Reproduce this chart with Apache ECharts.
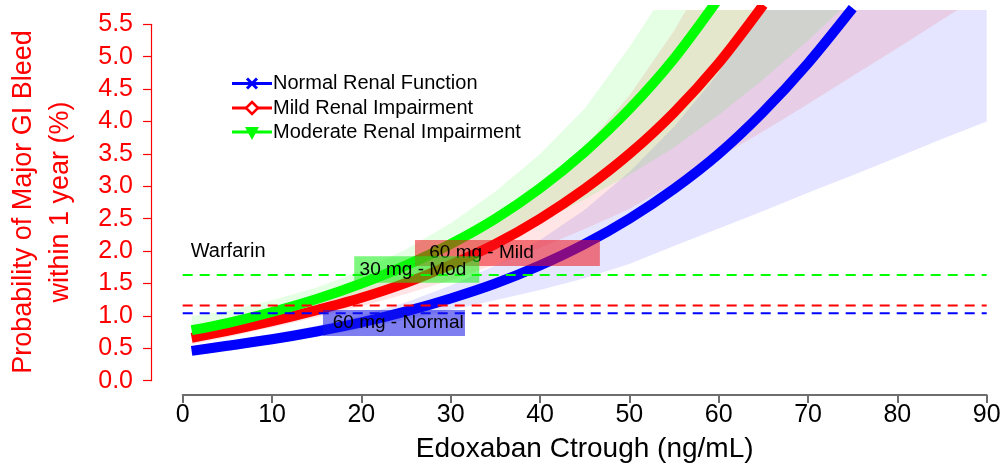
<!DOCTYPE html>
<html>
<head>
<meta charset="utf-8">
<script src="https://cdn.jsdelivr.net/npm/echarts/dist/echarts.min.js"></script>
<style>
  html, body { margin: 0; padding: 0; background: #fff; }
  #chart { width: 1005px; height: 466px; }
</style>
</head>
<body>
<div id="chart"></div>
<script>
// Edoxaban trough concentration (ng/mL) at which the curves are sampled
const concentration = [1, 5, 10, 15, 20, 25, 30, 35, 40, 45, 50, 55, 60, 65, 70, 75, 80, 85, 90];

// Predicted probability of major GI bleed within 1 year (%), with confidence limits.
// null = beyond the top of the plotted range.
const normalRisk = [0.46, 0.54, 0.64, 0.76, 0.90, 1.07, 1.27, 1.50, 1.78, 2.11, 2.50, 2.96, 3.50, 4.15, 4.90, 5.75, null, null, null];
const normalLow  = [0.40, 0.47, 0.57, 0.68, 0.80, 0.94, 1.09, 1.24, 1.40, 1.58, 1.80, 2.08, 2.35, 2.62, 2.90, 3.17, 3.45, 3.73, 4.00];
const normalHigh = [0.53, 0.61, 0.72, 0.85, 1.01, 1.21, 1.47, 1.78, 2.17, 2.64, 3.22, 3.92, 4.75, 5.95, null, null, null, null, null];

const mildRisk = [0.66, 0.77, 0.92, 1.09, 1.28, 1.51, 1.79, 2.11, 2.50, 2.96, 3.50, 4.14, 4.90, 5.80, null, null, null, null, null];
const mildLow  = [0.56, 0.67, 0.82, 0.98, 1.15, 1.34, 1.55, 1.79, 2.05, 2.34, 2.65, 3.05, 3.45, 3.85, 4.27, 4.70, 5.13, 5.57, 6.00];
const mildHigh = [0.76, 0.88, 1.04, 1.22, 1.44, 1.70, 2.02, 2.42, 2.90, 3.60, 4.40, 5.40, 6.60, null, null, null, null, null, null];

const modRisk = [0.78, 0.89, 1.06, 1.26, 1.50, 1.78, 2.11, 2.50, 2.97, 3.53, 4.19, 4.97, 5.90, null, null, null, null, null, null];
const modLow  = [0.62, 0.73, 0.90, 1.10, 1.32, 1.56, 1.83, 2.12, 2.45, 2.80, 3.18, 3.60, 4.10, 4.65, 5.25, 5.90, null, null, null];
const modHigh = [1.00, 1.08, 1.24, 1.44, 1.70, 2.03, 2.43, 2.92, 3.50, 4.20, 5.15, 6.20, null, null, null, null, null, null, null];

// Warfarin reference risk (%) for each renal group
const warfarinRisk = { normal: 1.04, mild: 1.16, moderate: 1.63 };

// Axis tick settings
const xTicks = { min: 0, max: 90, step: 10 };
const yTicks = { min: 0, max: 5.5, step: 0.5 };

// Dose-group tags (data units: concentration span, risk span, text start)
const doseTags = [
  { text: '60 mg - Mild',   x0: 26.0, x1: 46.7, y0: 1.77, y1: 2.17, tx: 27.6, fill: 'rgba(240,20,30,0.55)' },
  { text: '30 mg - Mod',    x0: 19.2, x1: 33.2, y0: 1.51, y1: 1.92, tx: 19.8, fill: 'rgba(20,240,20,0.55)' },
  { text: '60 mg - Normal', x0: 15.7, x1: 31.6, y0: 0.69, y1: 1.09, tx: 16.8, fill: 'rgba(20,20,230,0.55)' }
];

const FONT = '"Liberation Sans", Arial, Helvetica, sans-serif';
const Y_LIM = [-0.22, 5.72];   // plotting range of the data region

const BLUE = '#0000ff', RED = '#ff0000', GREEN = '#00ff00';

function pairs(values) {
  const out = [];
  values.forEach((v, i) => { if (v != null) out.push([concentration[i], v]); });
  return out;
}

function bandSeries(lower, upper, color) {
  return {
    type: 'custom', z: 2,
    xAxisIndex: 1, yAxisIndex: 1,
    clip: true, silent: true,
    data: [[concentration[0], lower[0]]],
    renderItem(params, api) {
      const top = Y_LIM[1];
      const up = concentration.map((x, i) => api.coord([x, upper[i] == null ? top : upper[i]]));
      const lo = concentration.map((x, i) => api.coord([x, lower[i] == null ? top : lower[i]])).reverse();
      return { type: 'polygon', shape: { points: up.concat(lo) }, style: { fill: color } };
    }
  };
}

function curveSeries(values, color) {
  return {
    type: 'line', z: 2, xAxisIndex: 1, yAxisIndex: 1,
    data: pairs(values), smooth: 0.3, showSymbol: false, symbol: 'none',
    lineStyle: { color, width: 10, cap: 'butt' }, silent: true
  };
}

function refSeries(value, color) {
  return {
    type: 'line', z: 3, xAxisIndex: 1, yAxisIndex: 1,
    data: [[xTicks.min, value], [xTicks.max, value]], symbol: 'none', silent: true,
    lineStyle: { color, width: 2, type: [10, 7] }
  };
}

const tagSeries = {
  type: 'custom', z: 4, xAxisIndex: 1, yAxisIndex: 1, silent: true,
  data: doseTags.map(d => [d.x0, d.y0]),
  renderItem(params, api) {
    const d = doseTags[params.dataIndex];
    const a = api.coord([d.x0, d.y1]);
    const b = api.coord([d.x1, d.y0]);
    const t = api.coord([d.tx, (d.y0 + d.y1) / 2]);
    return {
      type: 'group',
      children: [
        { type: 'rect', shape: { x: a[0], y: a[1], width: b[0] - a[0], height: b[1] - a[1] }, style: { fill: d.fill } },
        { type: 'text', x: t[0], y: t[1],
          style: { text: d.text, fill: '#000', fontSize: 19, fontFamily: FONT, align: 'left', verticalAlign: 'middle' } }
      ]
    };
  }
};

// Legend drawn as graphics: line + marker + label
const legendRows = [
  { label: 'Normal Renal Function',    color: BLUE,  y: 83.5,  marker: 'cross' },
  { label: 'Mild Renal Impairment',    color: RED,   y: 108,   marker: 'diamond' },
  { label: 'Moderate Renal Impairment', color: GREEN, y: 132,  marker: 'triangle' }
];

function legendGraphics() {
  const items = [];
  const x0 = 232, x1 = 272, cx = 252;
  legendRows.forEach(r => {
    items.push({ type: 'line', shape: { x1: x0, y1: r.y, x2: x1, y2: r.y }, style: { stroke: r.color, lineWidth: 3 } });
    if (r.marker === 'cross') {
      items.push({ type: 'line', shape: { x1: cx - 5, y1: r.y - 5, x2: cx + 5, y2: r.y + 5 }, style: { stroke: r.color, lineWidth: 3 } });
      items.push({ type: 'line', shape: { x1: cx - 5, y1: r.y + 5, x2: cx + 5, y2: r.y - 5 }, style: { stroke: r.color, lineWidth: 3 } });
    } else if (r.marker === 'diamond') {
      items.push({ type: 'polygon', shape: { points: [[cx, r.y - 6], [cx + 6, r.y], [cx, r.y + 6], [cx - 6, r.y]] },
        style: { fill: '#fff', stroke: r.color, lineWidth: 2.5 } });
    } else {
      items.push({ type: 'polygon', shape: { points: [[cx - 7, r.y - 5], [cx + 7, r.y - 5], [cx, r.y + 8]] },
        style: { fill: r.color } });
    }
    items.push({ type: 'text', x: x1 + 1, y: r.y,
      style: { text: r.label, fill: '#000', fontSize: 20, fontFamily: FONT, align: 'left', verticalAlign: 'middle' } });
  });
  return items;
}

const chart = echarts.init(document.getElementById('chart'), null, { renderer: 'canvas' });

chart.setOption({
  animation: false,
  backgroundColor: '#fff',
  grid: [
    { left: 182.7, right: 18.3, top: 24.3, bottom: 85.3 },   // axes frame (0..90, 0..5.5)
    { left: 182.7, right: 18.3, top: 10, bottom: 71 }        // data region (slightly padded vertically)
  ],
  xAxis: [
    {
      gridIndex: 0, type: 'value', min: xTicks.min, max: xTicks.max, interval: xTicks.step,
      offset: 14.3,
      axisLine: { onZero: false, lineStyle: { color: '#6e6e6e', width: 2 } },
      axisTick: { length: 8, lineStyle: { color: '#6e6e6e', width: 2 } },
      axisLabel: { color: '#000', fontSize: 25, fontFamily: FONT, margin: 8 },
      splitLine: { show: false }
    },
    { gridIndex: 1, type: 'value', min: xTicks.min, max: xTicks.max, show: false }
  ],
  yAxis: [
    {
      gridIndex: 0, type: 'value', min: yTicks.min, max: yTicks.max, interval: yTicks.step,
      offset: 31.7,
      axisLine: { show: true, onZero: false, lineStyle: { color: RED, width: 1.2 } },
      axisTick: { show: true, length: 8, lineStyle: { color: RED, width: 1.2 } },
      axisLabel: { color: RED, fontSize: 25, fontFamily: FONT, margin: 18, formatter: v => v.toFixed(1) },
      splitLine: { show: false }
    },
    { gridIndex: 1, type: 'value', min: Y_LIM[0], max: Y_LIM[1], show: false }
  ],
  graphic: [
    {
      type: 'text', x: 42, y: 202, rotation: Math.PI / 2,
      style: {
        text: 'Probability of Major GI Bleed\nwithin 1 year (%)',
        fill: RED, fontSize: 27, fontFamily: FONT, align: 'center', verticalAlign: 'middle', lineHeight: 37
      }
    },
    {
      type: 'text', x: 584.7, y: 449,
      style: { text: 'Edoxaban Ctrough (ng/mL)', fill: '#000', fontSize: 28, fontFamily: FONT, align: 'center', verticalAlign: 'middle' }
    },
    {
      type: 'text', x: 190.7, y: 251.5,
      style: { text: 'Warfarin', fill: '#000', fontSize: 20, fontFamily: FONT, align: 'left', verticalAlign: 'middle' }
    },
    ...legendGraphics()
  ],
  series: [
    bandSeries(normalLow, normalHigh, 'rgba(0,0,255,0.1)'),
    curveSeries(normalRisk, BLUE),
    bandSeries(mildLow, mildHigh, 'rgba(255,0,0,0.1)'),
    curveSeries(mildRisk, RED),
    bandSeries(modLow, modHigh, 'rgba(0,255,0,0.1)'),
    curveSeries(modRisk, GREEN),
    refSeries(warfarinRisk.moderate, GREEN),
    refSeries(warfarinRisk.mild, RED),
    refSeries(warfarinRisk.normal, BLUE),
    tagSeries
  ]
});
</script>
</body>
</html>
